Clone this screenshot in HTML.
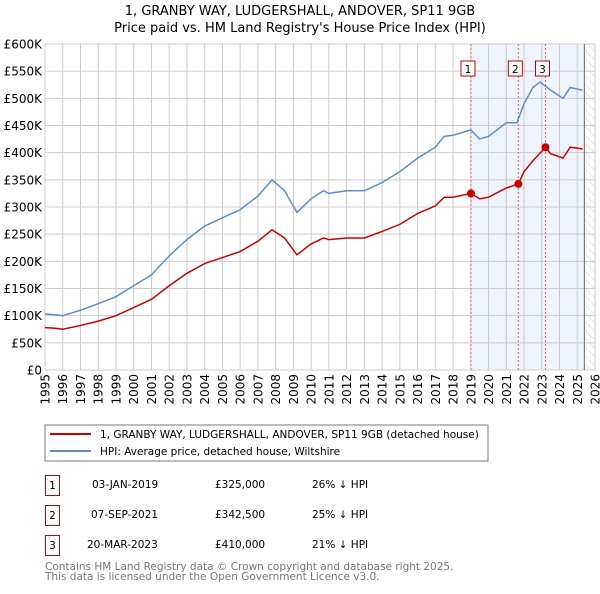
<!DOCTYPE html>
<html><head><meta charset="utf-8"><style>
body{margin:0;width:600px;height:590px;background:#fff;font-family:"DejaVu Sans","Liberation Sans",sans-serif;overflow:hidden}
svg text{font-family:"DejaVu Sans","Liberation Sans",sans-serif}
</style></head><body>
<svg id="c" width="600" height="590" xmlns="http://www.w3.org/2000/svg">
<defs><pattern id="hatch" width="6" height="6" patternUnits="userSpaceOnUse" patternTransform="rotate(-45)"><line x1="0" y1="0" x2="0" y2="6" stroke="#ccc" stroke-width="1"/></pattern></defs>
<text x="300" y="15" text-anchor="middle" font-size="13">1, GRANBY WAY, LUDGERSHALL, ANDOVER, SP11 9GB</text>
<text x="300" y="32" text-anchor="middle" font-size="13">Price paid vs. HM Land Registry's House Price Index (HPI)</text>
<g id="plot"></g>
<g>
<rect x="45" y="425" width="443" height="36" fill="#fff" stroke="#777"/>
<line x1="50" y1="434" x2="91" y2="434" stroke="#cc0000" stroke-width="2"/>
<text x="100" y="438" font-size="10.5">1, GRANBY WAY, LUDGERSHALL, ANDOVER, SP11 9GB (detached house)</text>
<line x1="50" y1="451" x2="91" y2="451" stroke="#5b8fd0" stroke-width="2"/>
<text x="100" y="455" font-size="10.5">HPI: Average price, detached house, Wiltshire</text>
</g>
<g font-size="10.5">
<rect x="45.5" y="475.5" width="14" height="20" fill="none" stroke="#cc0000"/><text x="52.5" y="489" text-anchor="middle">1</text>
<text x="92" y="488">03-JAN-2019</text><text x="215" y="488">£325,000</text><text x="312" y="488">26% ↓ HPI</text>
<rect x="45.5" y="505.5" width="14" height="20" fill="none" stroke="#cc0000"/><text x="52.5" y="519" text-anchor="middle">2</text>
<text x="91" y="518">07-SEP-2021</text><text x="215" y="518">£342,500</text><text x="312" y="518">25% ↓ HPI</text>
<rect x="45.5" y="535.5" width="14" height="20" fill="none" stroke="#cc0000"/><text x="52.5" y="549" text-anchor="middle">3</text>
<text x="87" y="548">20-MAR-2023</text><text x="215" y="548">£410,000</text><text x="312" y="548">21% ↓ HPI</text>
</g>
<text x="45" y="570" font-size="10.5" fill="#777">Contains HM Land Registry data © Crown copyright and database right 2025.</text>
<text x="45" y="580" font-size="10.5" fill="#777">This data is licensed under the Open Government Licence v3.0.</text>
</svg>
<script>
const hpiYears=[1995,1995.5,1996,1997,1998,1999,2000,2001,2002,2003,2004,2005,2006,2007,2007.8,2008.5,2009.2,2010,2010.7,2011,2012,2013,2014,2015,2016,2017,2017.5,2018,2019,2019.5,2020,2021,2021.6,2022,2022.5,2022.9,2023.5,2024.2,2024.6,2025.3];
const hpiValues=[103,102,100,110,122,135,155,175,210,240,265,280,295,320,350,330,290,315,330,325,330,330,345,365,390,410,430,432,442,425,430,455,455,490,520,530,515,500,520,515];
const propYears=[1995,1995.5,1996,1997,1998,1999,2000,2001,2002,2003,2004,2005,2006,2007,2007.8,2008.5,2009.2,2010,2010.7,2011,2012,2013,2014,2015,2016,2017,2017.5,2018,2019.01,2019.5,2020,2021,2021.68,2022,2022.5,2023.21,2023.5,2024.2,2024.6,2025.3];
const propValues=[78,77,75,82,90,100,115,130,155,178,196,207,218,237,258,243,212,232,243,240,243,243,255,268,288,302,318,318,325,315,318,335,342.5,365,385,410,398,390,410,407];
const saleYears=[2019.01,2021.68,2023.21];
const saleValues=[325,342.5,410];
const saleLabels=["1","2","3"];
const yTicks=[0,50,100,150,200,250,300,350,400,450,500,550,600];
const xTicks=[1995,1996,1997,1998,1999,2000,2001,2002,2003,2004,2005,2006,2007,2008,2009,2010,2011,2012,2013,2014,2015,2016,2017,2018,2019,2020,2021,2022,2023,2024,2025,2026];
const dataEnd=2025.4;
const X0=45,X1=595,Y0=370,Y1=44;
const x=v=>X0+(v-1995)/(2026-1995)*(X1-X0);
const y=v=>Y0-v/600*(Y0-Y1);
const NS="http://www.w3.org/2000/svg";
const g=document.getElementById('plot');
function mk(t,a,p){const e=document.createElementNS(NS,t);for(const k in a)e.setAttribute(k,a[k]);(p||g).appendChild(e);return e;}
let e=mk('rect',{x:x(saleYears[0]),y:Y1,width:x(dataEnd)-x(saleYears[0]),height:Y0-Y1,fill:'#eef3fc'});


e=mk('rect',{x:x(dataEnd),y:Y1,width:X1-x(dataEnd),height:Y0-Y1,fill:'url(#hatch)'});


yTicks.forEach(v=>{
 e=mk('line',{x1:X0,x2:X1,y1:y(v),y2:y(v),stroke:'#ccc'});
 
 
 e=mk('text',{x:X0-3,y:y(v)+4.5,'text-anchor':'end','font-size':'12'});e.textContent=v===0?'£0':'£'+v+'K';
 
 
});
xTicks.forEach(v=>{
 e=mk('line',{x1:x(v),x2:x(v),y1:Y1,y2:Y0,stroke:'#ccc'});
 
 
 e=mk('text',{x:0,y:0,'text-anchor':'end','font-size':'12',transform:'translate('+(x(v)+4.5)+','+(Y0+4)+') rotate(-90)'});e.textContent=v;
 
 
});
e=mk('line',{x1:x(dataEnd),x2:x(dataEnd),y1:Y1,y2:Y0,stroke:'#666'});


saleYears.forEach((s,i)=>{
 e=mk('line',{x1:x(s),x2:x(s),y1:Y1,y2:Y0,stroke:'#e66',"stroke-dasharray":'2,2'});
 
 
 e=mk('rect',{x:x(s)-7-3,y:61,width:14,height:15,fill:'#fff',stroke:'#cc0000'});
 
 
 e=mk('text',{x:x(s)-3,y:73,'text-anchor':'middle','font-size':'10.5'});e.textContent=saleLabels[i];
 
 
});
e=mk('polyline',{points:hpiYears.map((t,i)=>x(t)+','+y(hpiValues[i])).join(' '),fill:'none',stroke:'#5b8fd0','stroke-width':1.5});


e=mk('polyline',{points:propYears.map((t,i)=>x(t)+','+y(propValues[i])).join(' '),fill:'none',stroke:'#cc0000','stroke-width':1.5});


saleYears.forEach((s,i)=>{
 e=mk('circle',{cx:x(s),cy:y(saleValues[i]),r:4,fill:'#cc0000'});
 
 
});
</script>
</body></html>
